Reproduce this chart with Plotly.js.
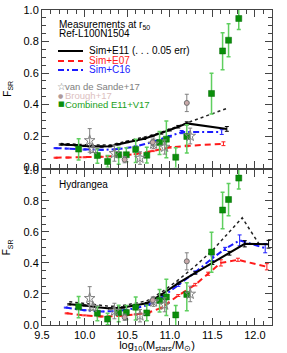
<!DOCTYPE html>
<html>
<head>
<meta charset="utf-8">
<script src="https://cdn.plot.ly/plotly-3.0.1.min.js"></script>
<style>html,body{margin:0;padding:0;background:#fff;}#chart{width:287px;height:353px;}</style>
</head>
<body>
<div id="chart"></div>
<script>
// ---------- data: top panel (Ref-L100N1504) ----------
const topE11_x = [9.72, 9.8, 9.9, 10.0, 10.1, 10.2, 10.3, 10.4, 10.5, 10.6, 10.7, 10.8, 10.9, 11.0, 11.1, 11.2, 11.67];
const topE11_y = [0.146, 0.145, 0.142, 0.137, 0.134, 0.133, 0.135, 0.148, 0.162, 0.172, 0.183, 0.200, 0.218, 0.238, 0.259, 0.280, 0.245];
const topE11_err = [0.004, 0.004, 0.004, 0.004, 0.004, 0.004, 0.004, 0.004, 0.004, 0.004, 0.005, 0.005, 0.006, 0.006, 0.008, 0.01, 0.015];
const topDot_y = [0.152, 0.151, 0.149, 0.145, 0.142, 0.141, 0.143, 0.155, 0.168, 0.178, 0.190, 0.206, 0.224, 0.244, 0.264, 0.285, 0.375];
const topE07_x = [9.66, 9.8, 10.0, 10.2, 10.4, 10.6, 10.8, 11.0, 11.2, 11.63];
const topE07_y = [0.062, 0.063, 0.065, 0.068, 0.074, 0.085, 0.105, 0.128, 0.137, 0.151];
const topE07_err = [0.003, 0.003, 0.003, 0.003, 0.003, 0.003, 0.004, 0.004, 0.005, 0.012];
const topC16_x = [9.66, 9.8, 10.0, 10.2, 10.4, 10.6, 10.8, 11.0, 11.14, 11.61];
const topC16_y = [0.123, 0.120, 0.114, 0.112, 0.117, 0.133, 0.163, 0.198, 0.225, 0.225];
const topC16_err = [0.003, 0.003, 0.003, 0.003, 0.003, 0.004, 0.004, 0.005, 0.01, 0.015];

// ---------- data: bottom panel (Hydrangea) ----------
const botE11_x = [9.82, 10.0, 10.15, 10.3, 10.45, 10.6, 10.73, 10.9, 11.1, 11.3, 11.5, 11.7, 11.88, 12.16];
const botE11_y = [0.133, 0.126, 0.115, 0.107, 0.113, 0.128, 0.140, 0.195, 0.270, 0.335, 0.400, 0.462, 0.523, 0.520];
const botE11_err = [0.004, 0.004, 0.004, 0.004, 0.004, 0.004, 0.005, 0.006, 0.007, 0.008, 0.01, 0.012, 0.02, 0.025];
const botDot_x = [9.82, 10.0, 10.15, 10.3, 10.45, 10.6, 10.73, 10.9, 11.1, 11.3, 11.5, 11.7, 11.85, 12.05];
const botDot_y = [0.150, 0.140, 0.128, 0.120, 0.125, 0.140, 0.155, 0.210, 0.290, 0.380, 0.480, 0.600, 0.690, 0.520];
const botE07_x = [9.79, 10.0, 10.2, 10.4, 10.6, 10.75, 10.9, 11.1, 11.3, 11.45, 11.6, 11.8, 12.14];
const botE07_y = [0.075, 0.062, 0.055, 0.058, 0.068, 0.080, 0.110, 0.190, 0.260, 0.330, 0.400, 0.420, 0.375];
const botE07_err = [0.003, 0.003, 0.003, 0.003, 0.003, 0.004, 0.005, 0.006, 0.008, 0.01, 0.02, 0.01, 0.02];
const botC16_x = [9.78, 10.0, 10.2, 10.4, 10.6, 10.75, 10.9, 11.1, 11.3, 11.5, 11.65, 11.82, 12.12];
const botC16_y = [0.112, 0.095, 0.087, 0.090, 0.108, 0.130, 0.175, 0.255, 0.340, 0.430, 0.490, 0.545, 0.495];
const botC16_err = [0.003, 0.003, 0.003, 0.003, 0.004, 0.004, 0.005, 0.006, 0.008, 0.015, 0.01, 0.035, 0.03];

// ---------- observations (same in both panels) ----------
const obs_x = [9.93, 10.15, 10.27, 10.40, 10.49, 10.60, 10.73, 10.88, 10.96, 11.07, 11.20, 11.49, 11.62, 11.69, 11.81];
const obs_y = [0.117, 0.076, 0.038, 0.081, 0.081, 0.115, 0.078, 0.158, 0.180, 0.065, 0.197, 0.470, 0.740, 0.808, 0.946];
const obs_errUp = [0.066, 0.043, 0.038, 0.046, 0.045, 0.065, 0.050, 0.070, 0.115, 0.060, 0.075, 0.128, 0.115, 0.104, 0.060];
const obs_errDn = [0.070, 0.049, 0.036, 0.060, 0.045, 0.083, 0.050, 0.075, 0.118, 0.070, 0.105, 0.130, 0.120, 0.105, 0.070];
const vds_x = [10.06, 10.10, 10.35, 10.65, 10.81, 10.94, 11.24];
const vds_y = [0.172, 0.115, 0.090, 0.060, 0.150, 0.130, 0.200];
const vds_err = [0.075, 0.020, 0.050, 0.040, 0.030, 0.045, 0.050];
const bro_x = [10.47, 10.80, 11.20];
const bro_y = [0.050, 0.160, 0.410];
const bro_err = [0.020, 0.020, 0.055];

const RED = '#ff1a1a', BLUE = '#1a1aff', GREEN = '#1aa01a', GRAY = '#808080';

function simLine(x, y, err, color, dash, ya, w) {
  const t = {type: 'scatter', mode: 'lines', x: x, y: y, xaxis: ya === 'y2' ? 'x2' : 'x', yaxis: ya,
    line: {color: color, width: w || 2, dash: dash}, showlegend: false, hoverinfo: 'skip'};
  if (err) t.error_y = {type: 'data', array: err, visible: true, color: color, thickness: 1, width: 2};
  return t;
}
function obsTraces(ya) {
  const xa = ya === 'y2' ? 'x2' : 'x';
  return [
    {type: 'scatter', mode: 'markers', x: obs_x, y: obs_y, xaxis: xa, yaxis: ya, showlegend: false, hoverinfo: 'skip',
     marker: {symbol: 'square', size: 6, color: '#0a8f0a', line: {color: '#066a06', width: 0.5}},
     error_y: {type: 'data', symmetric: false, array: obs_errUp, arrayminus: obs_errDn, color: '#5fcf5f', thickness: 1.5, width: 2}},
    {type: 'scatter', mode: 'markers', x: vds_x, y: vds_y, xaxis: xa, yaxis: ya, showlegend: false, hoverinfo: 'skip',
     marker: {symbol: 'star-open', size: 8, color: GRAY, line: {width: 1}},
     error_y: {type: 'data', array: vds_err, color: GRAY, thickness: 1, width: 2}},
    {type: 'scatter', mode: 'markers', x: bro_x, y: bro_y, xaxis: xa, yaxis: ya, showlegend: false, hoverinfo: 'skip',
     marker: {symbol: 'circle', size: 5, color: '#c9a9a9', line: {color: '#707070', width: 1}},
     error_y: {type: 'data', array: bro_err, color: GRAY, thickness: 1, width: 2}}
  ];
}

const data = [
  simLine(topE11_x, topDot_y, null, '#222', 'dot', 'y2', 1.5),
  simLine(topE07_x, topE07_y, topE07_err, RED, '6px,4px', 'y2'),
  simLine(topC16_x, topC16_y, topC16_err, BLUE, '6px,3px,2px,3px', 'y2'),
  simLine(topE11_x, topE11_y, topE11_err, '#000', 'solid', 'y2'),
  simLine(botDot_x, botDot_y, null, '#222', 'dot', 'y', 1.5),
  simLine(botE07_x, botE07_y, botE07_err, RED, '6px,4px', 'y'),
  simLine(botC16_x, botC16_y, botC16_err, BLUE, '6px,3px,2px,3px', 'y'),
  simLine(botE11_x, botE11_y, botE11_err, '#000', 'solid', 'y'),
  ...obsTraces('y2'),
  ...obsTraces('y')
];

const FONT = 'Liberation Sans, Arial, Helvetica, sans-serif';
const xCommon = {range: [9.5, 12.2], tick0: 9.5, dtick: 0.5, tickformat: '.1f', ticks: 'inside', ticklen: 7,
  tickcolor: '#444', minor: {dtick: 0.1, ticks: 'inside', ticklen: 4, tickcolor: '#444'},
  showline: true, linecolor: '#444', linewidth: 1, mirror: 'allticks', showgrid: false, zeroline: false};
const yCommon = {range: [0, 1], tick0: 0, dtick: 0.2, tickformat: '.1f', ticks: 'inside', ticklen: 7,
  tickcolor: '#444', minor: {dtick: 0.05, ticks: 'inside', ticklen: 4, tickcolor: '#444'},
  showline: true, linecolor: '#444', linewidth: 1, mirror: 'allticks', showgrid: false, zeroline: false,
  title: {text: 'F<sub>SR</sub>', font: {size: 10, color: '#000'}, standoff: 10}};

function px2x(px) { return (px - 42) / 230; }
function py2y(py) { return (325 - py) / 315; }
function ann(text, px, py, color, size, family) {
  return {text: text, xref: 'paper', yref: 'paper', x: px2x(px), y: py2y(py), xanchor: 'left', yanchor: 'middle',
    showarrow: false, font: {size: size || 10, color: color || '#000', family: family || FONT}};
}

const layout = {
  width: 287, height: 353,
  margin: {l: 42, r: 15, t: 10, b: 28},
  paper_bgcolor: '#fff', plot_bgcolor: '#fff',
  font: {family: FONT, size: 11, color: '#000'},
  showlegend: false,
  xaxis: Object.assign({}, xCommon, {anchor: 'y',
    title: {text: 'log<sub>10</sub>(M<sub>stars</sub>/M<sub>⊙</sub>)', font: {size: 11}, standoff: 2}}),
  xaxis2: Object.assign({}, xCommon, {anchor: 'y2', matches: 'x', showticklabels: false}),
  yaxis: Object.assign({}, yCommon, {domain: [0, 0.493], anchor: 'x'}),
  yaxis2: Object.assign({}, yCommon, {domain: [0.5, 1], anchor: 'x2'}),
  shapes: [
    {type: 'line', xref: 'paper', yref: 'paper', x0: px2x(58), x1: px2x(83), y0: py2y(51), y1: py2y(51), line: {color: '#000', width: 2}},
    {type: 'line', xref: 'paper', yref: 'paper', x0: px2x(58), x1: px2x(83), y0: py2y(61), y1: py2y(61), line: {color: RED, width: 2, dash: '6px,4px'}},
    {type: 'line', xref: 'paper', yref: 'paper', x0: px2x(58), x1: px2x(83), y0: py2y(70), y1: py2y(70), line: {color: BLUE, width: 2, dash: '6px,3px,2px,3px'}}
  ],
  annotations: [
    ann('Measurements at r<sub>50</sub>', 57, 25),
    ann('Ref-L100N1504', 57, 34),
    ann('Sim+E11 (. . . 0.05 err)', 87, 50),
    ann('Sim+E07', 87, 60, RED),
    ann('Sim+C16', 87, 69, BLUE),
    ann('☆', 55, 86, GRAY, 10, 'DejaVu Sans'),
    ann('van de Sande+17', 63, 86, GRAY, 9.5),
    ann('●', 56, 95, '#b09a9a', 6, 'DejaVu Sans'),
    ann('Brough+17', 63, 95, '#dcc0c0', 9.5),
    ann('■', 56, 104, '#0a8f0a', 7, 'DejaVu Sans'),
    ann('Combined E11+V17', 63, 104, GREEN, 9.5),
    ann('Hydrangea', 57, 184)
  ]
};

Plotly.newPlot('chart', data, layout, {staticPlot: true, displayModeBar: false});
</script>
</body>
</html>
